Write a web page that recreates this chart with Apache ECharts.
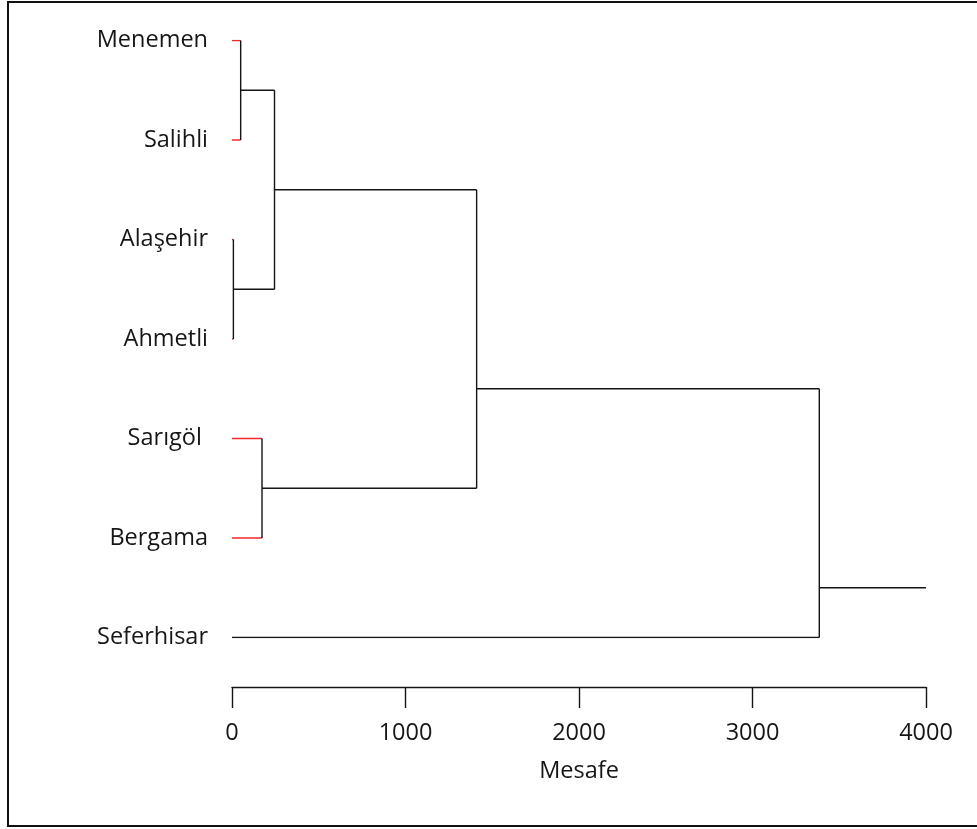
<!DOCTYPE html>
<html>
<head>
<meta charset="utf-8">
<title>Dendrogram</title>
<script src="https://cdn.jsdelivr.net/npm/echarts@6/dist/echarts.min.js"></script>
<style>
  html, body { margin: 0; padding: 0; background: #fff; }
  #chart { width: 977px; height: 829px; }
</style>
</head>
<body>
<div id="chart"></div>
<script>
// Leaves, top to bottom (row index = position on the vertical axis)
const leafNames = ['Menemen', 'Salihli', 'Alaşehir', 'Ahmetli', 'Sarıgöl ', 'Bergama', 'Seferhisar'];
// 1 = leaf stub drawn in red, 0 = black
const leafRed = [1, 1, 1, 1, 1, 1, 0];

// Merge steps: node ids 0..6 are leaves, merge k gets id 7 + k
const mergeLeft   = [0, 2, 7, 4, 9, 11];
const mergeRight  = [1, 3, 8, 5, 10, 6];
const mergeHeight = [50, 8, 245, 173, 1410, 3385];
const mergeRow    = [0.5, 2.5, 1.5, 4.5, 3.5, 5.5];
const rootTail = 4000;

// Distance axis ticks
const xTicks = [0, 1000, 2000, 3000, 4000];

const nLeaf = leafNames.length;
const nodeHeight = i => (i < nLeaf ? 0 : mergeHeight[i - nLeaf]);
const nodeRow = i => (i < nLeaf ? i : mergeRow[i - nLeaf]);

const BLACK = '#141414';
const RED = '#f0282a';
const TEXT = '#161616';

const segs = [];
mergeLeft.forEach((l, k) => {
  const h = mergeHeight[k];
  [l, mergeRight[k]].forEach(c => {
    const red = c < nLeaf && leafRed[c] === 1;
    segs.push({
      coords: [[nodeHeight(c), nodeRow(c)], [h, nodeRow(c)]],
      lineStyle: { color: red ? RED : BLACK }
    });
  });
  segs.push({
    coords: [[h, nodeRow(l)], [h, nodeRow(mergeRight[k])]],
    lineStyle: { color: BLACK }
  });
});
const last = mergeHeight.length - 1;
segs.push({
  coords: [[mergeHeight[last], mergeRow[last]], [rootTail, mergeRow[last]]],
  lineStyle: { color: BLACK }
});

const FONT = '"Open Sans", "Noto Sans", sans-serif';
const chart = echarts.init(document.getElementById('chart'), null, { renderer: 'canvas' });
chart.setOption({
  backgroundColor: '#ffffff',
  animation: false,
  grid: { left: 232, right: 51, top: 40.5, bottom: 191.5, containLabel: false },
  xAxis: {
    type: 'value',
    position: 'bottom',
    min: xTicks[0],
    max: xTicks[xTicks.length - 1],
    interval: 1000,
    offset: 49.5,
    name: 'Mesafe',
    nameLocation: 'middle',
    nameGap: 72,
    nameTextStyle: { fontFamily: FONT, fontSize: 23.5, color: TEXT },
    axisLine: { show: true, onZero: false, lineStyle: { color: BLACK, width: 1.4 } },
    axisTick: { show: true, length: 21, lineStyle: { color: BLACK, width: 1.4 } },
    axisLabel: {
      margin: 34,
      fontFamily: FONT,
      fontSize: 23.5,
      color: TEXT,
      formatter: v => String(v)
    },
    splitLine: { show: false }
  },
  yAxis: {
    type: 'value',
    inverse: true,
    min: 0,
    max: nLeaf - 1,
    interval: 1,
    axisLine: { show: false },
    axisTick: { show: false },
    splitLine: { show: false },
    axisLabel: {
      margin: 24,
      fontFamily: FONT,
      fontSize: 23.5,
      color: TEXT,
      verticalAlign: 'middle',
      padding: [0, 0, 6, 0],
      formatter: v => leafNames[v] || ''
    }
  },
  series: [{
    type: 'lines',
    coordinateSystem: 'cartesian2d',
    polyline: true,
    silent: true,
    lineStyle: { width: 1.4, opacity: 1 },
    data: segs
  }],
  graphic: [{
    type: 'rect',
    shape: { x: 8, y: 2, width: 990, height: 824 },
    style: { fill: 'none', stroke: '#111', lineWidth: 2 },
    silent: true
  }]
});
</script>
</body>
</html>
